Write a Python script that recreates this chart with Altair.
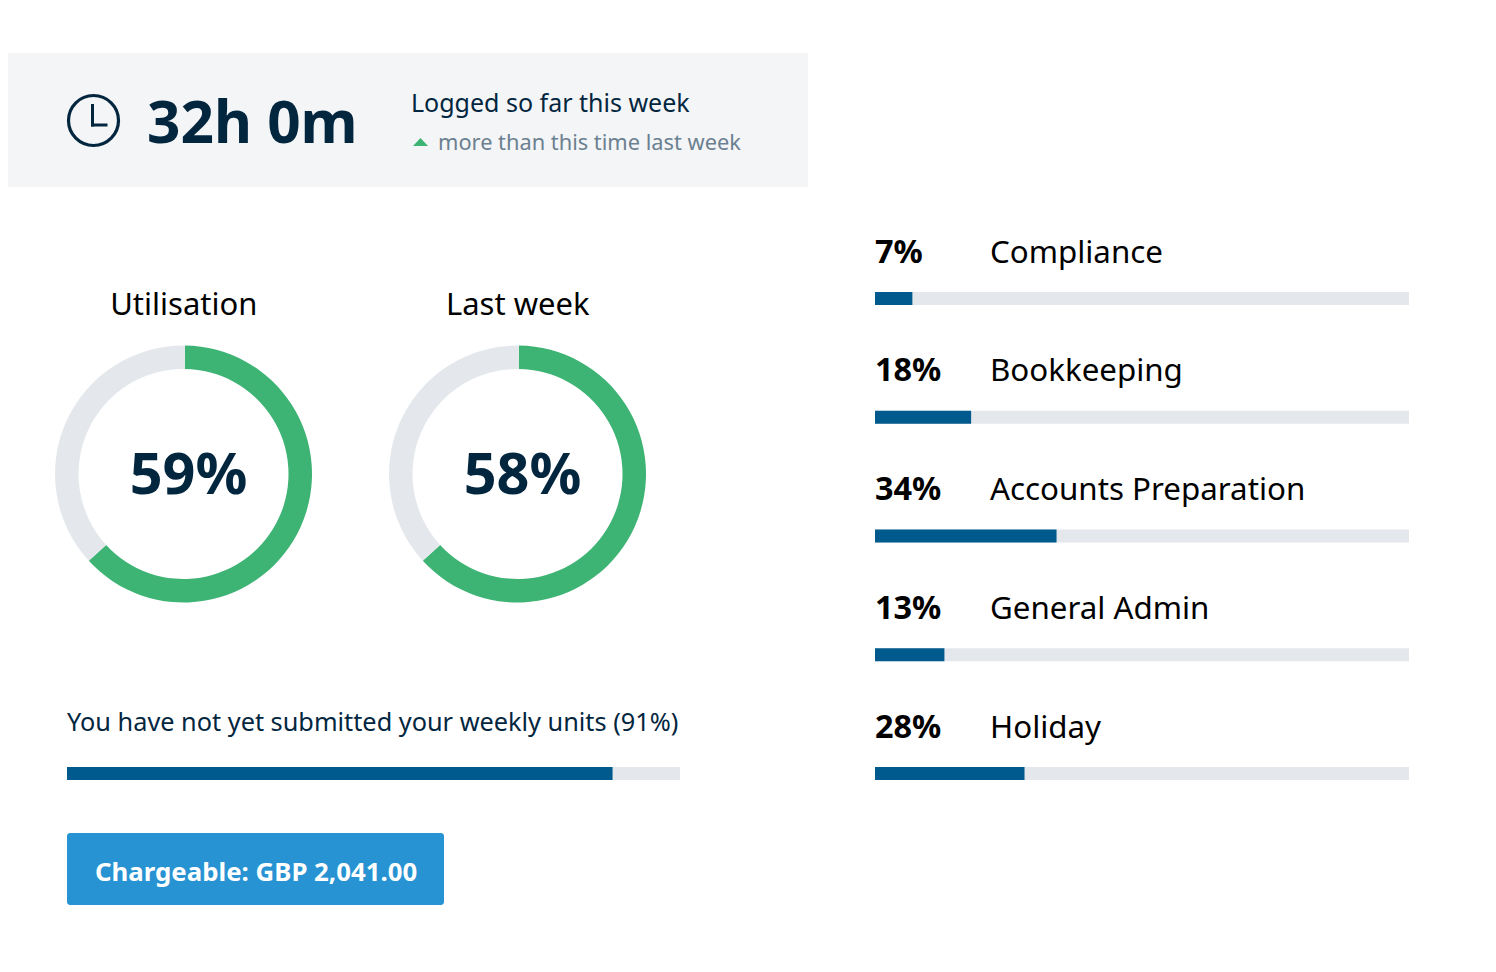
import altair as alt
import pandas as pd

# ---- values ----
categories = ["Compliance", "Bookkeeping", "Accounts Preparation", "General Admin", "Holiday"]
category_pct = [7, 18, 34, 13, 28]
donut_titles = ["Utilisation", "Last week"]
donut_labels = ["59%", "58%"]
donut_arc = [63, 63]          # sweep of the green arc as drawn
units_label = "You have not yet submitted your weekly units (91%)"
units_fill = [89]             # length of the blue bar as drawn
logged_value = "32h 0m"
logged_title = "Logged so far this week"
logged_note = "more than this time last week"
chargeable = "Chargeable: GBP 2,041.00"

FONT = "Noto Sans"
NAVY = "#03263F"
GREEN = "#3DB374"
TRACK = "#E4E8EC"
BLUE = "#005A8E"
PANEL = "#F4F5F7"
BUTTON = "#2793D3"
MUTED = "#6B8090"


def V(n):
    return alt.value(n)


def label(text, x, y, size, color="#000000", weight=400, align="left"):
    return alt.Chart(pd.DataFrame({"t": [text]})).mark_text(
        font=FONT, fontSize=size, fontWeight=weight, color=color, align=align, baseline="alphabetic"
    ).encode(x=V(x), y=V(y), text="t:N")


def box(x, x2, y, y2, color, radius=0):
    return alt.Chart(pd.DataFrame({"k": [0]})).mark_rect(color=color, cornerRadius=radius).encode(
        x=V(x), x2=V(x2), y=V(y), y2=V(y2)
    )


def donut(value, title, text, cx):
    df = pd.DataFrame({"part": ["done", "rest"], "share": [value, 100 - value], "o": [0, 1]})
    arc = alt.Chart(df).mark_arc(innerRadius=105, outerRadius=128.5).encode(
        x=V(cx), y=V(466),
        theta=alt.Theta("share:Q", stack=True, scale=alt.Scale(domain=[0, 100], range=[0.012, 6.295])),
        color=alt.Color("part:N", scale=alt.Scale(domain=["done", "rest"], range=[GREEN, TRACK]), legend=None),
        order=alt.Order("o:Q"),
    )
    return [arc,
            label(title, cx + 0.3, 307, 31, align="center"),
            label(text, cx + 5, 486, 57.5, color=NAVY, weight=700, align="center")]


# right-hand breakdown
right_df = pd.DataFrame({"name": categories, "pct": category_pct, "zero": 0, "full": 100})
right_df["pct_text"] = right_df["pct"].astype(str) + "%"
rx = alt.Scale(domain=[0, 100], range=[867, 1401])
ry = alt.Scale(domain=categories, range=[231.125, 824.875], paddingInner=0, paddingOuter=0)
rbase = alt.Chart(right_df)
Ye = alt.Y("name:N", scale=ry, axis=None)
right = alt.layer(
    rbase.mark_bar(size=13, color=TRACK).encode(x=alt.X("zero:Q", scale=rx, axis=None), x2="full:Q", y=Ye),
    rbase.mark_bar(size=13, color=BLUE).encode(x=alt.X("zero:Q", scale=rx, axis=None), x2="pct:Q", y=Ye),
    rbase.mark_text(font=FONT, fontSize=32.4, fontWeight=700, color="#000000", align="left",
                    baseline="alphabetic", dy=-36).encode(
        x=alt.X("zero:Q", scale=rx, axis=None), y=Ye, text="pct_text:N"),
    rbase.mark_text(font=FONT, fontSize=31.3, color="#000000", align="left",
                    baseline="alphabetic", dy=-36, dx=115).encode(
        x=alt.X("zero:Q", scale=rx, axis=None), y=Ye, text="name:N"),
)

# weekly units bar
units_df = pd.DataFrame({"fill": units_fill, "zero": 0, "full": 100})
ux = alt.Scale(domain=[0, 100], range=[59, 672])
units = alt.layer(
    alt.Chart(units_df).mark_rect(color=TRACK).encode(
        x=alt.X("zero:Q", scale=ux, axis=None), x2="full:Q", y=V(759), y2=V(772)),
    alt.Chart(units_df).mark_rect(color=BLUE).encode(
        x=alt.X("zero:Q", scale=ux, axis=None), x2="fill:Q", y=V(759), y2=V(772)),
)

clock = alt.Chart(pd.DataFrame({"k": [0]})).mark_point(
    shape="circle", size=2500, filled=False, stroke=NAVY, strokeWidth=3.2, opacity=1
).encode(x=V(85.5), y=V(112.5))
hand_v = alt.Chart(pd.DataFrame({"k": [0]})).mark_rule(color=NAVY, strokeWidth=3).encode(
    x=V(84.5), y=V(96), y2=V(118.5))
hand_h = alt.Chart(pd.DataFrame({"k": [0]})).mark_rule(color=NAVY, strokeWidth=3).encode(
    x=V(83), x2=V(99.5), y=V(117))
tri = alt.Chart(pd.DataFrame({"k": [0]})).mark_point(
    shape="M-1,0.53L1,0.53L0,-0.53Z", size=225, filled=True, color=GREEN, opacity=1
).encode(x=V(412.5), y=V(134))

layers = [
    box(0, 800, 45, 179, PANEL),
    clock, hand_v, hand_h,
    label(logged_value, 139, 135, 58.5, color=NAVY, weight=700),
    label(logged_title, 403, 104, 25, color=NAVY),
    tri,
    label(logged_note, 430, 142, 21.8, color=MUTED),
]
for v, t, s, cx in zip(donut_arc, donut_titles, donut_labels, [175.5, 509.5]):
    layers += donut(v, t, s, cx)
layers += [
    label(units_label, 59, 723, 25.3, color=NAVY),
    units,
    box(59, 436, 825, 897, BUTTON, radius=3),
    label(chargeable, 87, 873, 25.8, color="#FFFFFF", weight=700),
    right,
]

chart = alt.layer(*layers).resolve_scale(
    x="independent", y="independent", color="independent", theta="independent"
).properties(width=1480, height=956, padding=0, autosize=alt.AutoSizeParams(type="none")
).configure_view(stroke=None)

chart.save("out.html", embed_options={"renderer": "svg", "actions": False})
